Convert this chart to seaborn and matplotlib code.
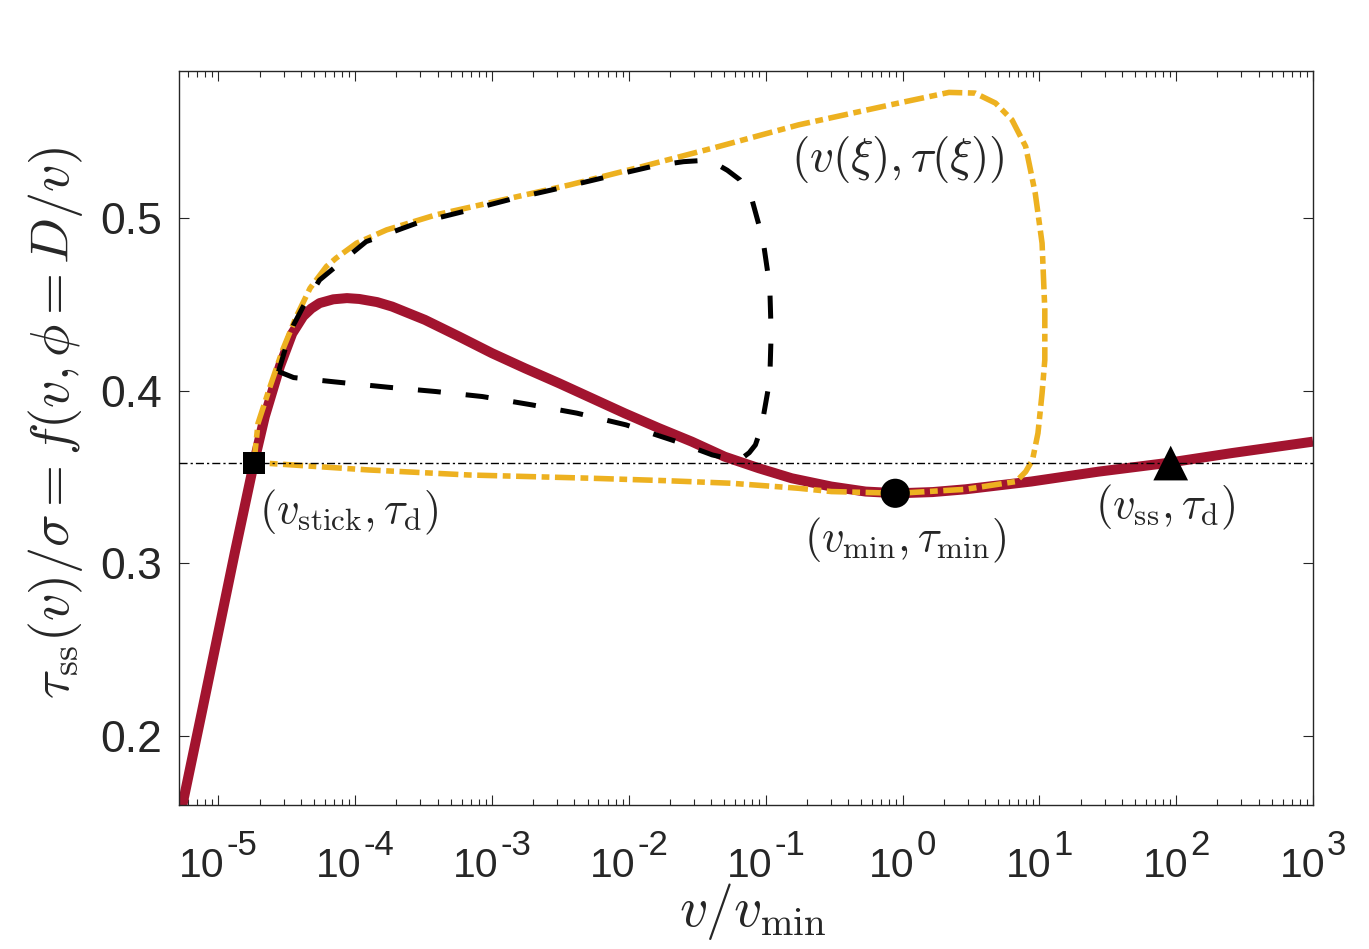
import numpy as np
import matplotlib
matplotlib.use("Agg")
import matplotlib.pyplot as plt
import matplotlib.transforms as mtransforms
import seaborn as sns
from matplotlib.ticker import LogLocator, NullFormatter, FixedLocator

# steady-state friction curve, x kept as log10(v/v_min)
ss_logv = [-5.32, -5.26, -5.12, -5.00, -4.88, -4.74, -4.66, -4.55, -4.46, -4.38,
           -4.32, -4.26, -4.16, -4.06, -3.97, -3.84, -3.73, -3.49, -3.24, -3.00,
           -2.76, -2.51, -2.27, -2.03, -1.78, -1.54, -1.30, -1.05, -0.81, -0.52,
           -0.27, -0.03, 0.22, 0.46, 0.94, 1.43, 1.92, 2.40, 3.00]
ss_tau = [0.138, 0.161, 0.214, 0.260, 0.306, 0.358, 0.385, 0.414, 0.433, 0.443,
          0.4475, 0.4506, 0.4528, 0.4535, 0.4530, 0.4512, 0.4486, 0.4409, 0.4312, 0.4216,
          0.4129, 0.4042, 0.3955, 0.3868, 0.3782, 0.3704, 0.3617, 0.3550, 0.3492, 0.3444,
          0.3415, 0.3405, 0.3412, 0.3428, 0.3473, 0.3530, 0.3579, 0.3637, 0.3704]

# black dashed orbit
blk_logv = [-4.56, -4.50, -4.45, -4.38, -4.26, -4.10, -3.92, -3.55, -3.21, -2.86,
            -2.51, -2.17, -1.81, -1.60, -1.46, -1.37, -1.28, -1.19, -1.10, -1.02,
            -0.97, -0.96, -0.97, -1.00, -1.03, -1.075, -1.12, -1.17, -1.22, -1.30,
            -1.39, -1.65, -2.02, -2.38, -2.71, -3.07, -3.41, -3.76, -4.15, -4.45, -4.56]
blk_tau = [0.411, 0.427, 0.438, 0.4486, 0.464, 0.4745, 0.4862, 0.4969, 0.5036, 0.5108,
           0.5171, 0.5235, 0.5301, 0.5325, 0.5332, 0.5316, 0.5275, 0.5221, 0.5105, 0.4874,
           0.4602, 0.4332, 0.4061, 0.3926, 0.3791, 0.3685, 0.3640, 0.3610, 0.3600, 0.3611,
           0.3627, 0.3704, 0.3801, 0.3869, 0.3917, 0.3965, 0.3994, 0.4019, 0.4050, 0.4075, 0.411]

# yellow dash-dot orbit (v(xi), tau(xi))
org_logv = [-4.74, -4.71, -4.63, -4.53, -4.43, -4.33, -4.21, -4.14, -3.99, -3.77,
            -3.41, -2.92, -2.43, -1.95, -1.36, -0.76, -0.03, 0.34, 0.53, 0.68,
            0.80, 0.90, 0.97, 1.02, 1.04, 1.04, 1.02, 0.99, 0.95, 0.90,
            0.83, 0.46, -0.03, -0.52, -0.76, -1.25, -1.73, -2.27, -3.17, -3.90,
            -4.65, -4.74]
org_tau = [0.358, 0.381, 0.4004, 0.4235, 0.4428, 0.4592, 0.4718, 0.4766, 0.4853, 0.4930,
           0.5017, 0.5104, 0.5191, 0.5287, 0.5409, 0.5538, 0.5664, 0.5726, 0.5722, 0.5664,
           0.5567, 0.5413, 0.5142, 0.4853, 0.4467, 0.4177, 0.3984, 0.3753, 0.3598, 0.3530,
           0.3473, 0.3428, 0.3405, 0.3415, 0.3434, 0.3463, 0.3478, 0.3492, 0.3511, 0.3540,
           0.3579, 0.358]

# special points
tau_d = 0.358
tau_min = 0.3405
v_stick_log = -4.74
v_min_log = -0.053
v_ss_log = 1.96

yticks = [0.2, 0.3, 0.4, 0.5]
xtick_exps = list(range(-5, 4))

sns.set_style("ticks")
plt.rcParams["font.family"] = ["Liberation Sans", "DejaVu Sans"]
plt.rcParams["mathtext.fontset"] = "cm"

red = "#A2142F"
gold = "#EDB120"
ink = "#262626"

fig = plt.figure(figsize=(13.69, 9.49), dpi=100)
ax = fig.add_axes([0.1308, 0.1517, 0.8283, 0.7735])
ax.set_xscale("log")

sns.lineplot(x=10 ** np.array(ss_logv), y=ss_tau, sort=False, estimator=None,
             color=red, linewidth=7.2, solid_capstyle="butt", ax=ax, zorder=2)
sns.lineplot(x=10 ** np.array(org_logv), y=org_tau, sort=False, estimator=None,
             color=gold, linewidth=4, linestyle=(0, (3.6, 1.0, 1.4, 1.0)), ax=ax, zorder=3)
sns.lineplot(x=10 ** np.array(blk_logv), y=blk_tau, sort=False, estimator=None,
             color="black", linewidth=3.6, linestyle=(0, (4.6, 5.0)), ax=ax, zorder=4)
ax.axhline(tau_d, color="black", linewidth=1.0, linestyle=(0, (5.8, 2.2, 1.6, 2.2)), zorder=5)

sns.scatterplot(x=[10 ** v_stick_log], y=[tau_d], marker="s", s=16 ** 2, color="black",
                edgecolor="none", ax=ax, zorder=6)
sns.scatterplot(x=[10 ** v_min_log], y=[tau_min], marker="o", s=21 ** 2, color="black",
                edgecolor="none", ax=ax, zorder=6)
sns.scatterplot(x=[10 ** v_ss_log], y=[tau_d], marker="^", s=25 ** 2, color="black",
                edgecolor="none", ax=ax, zorder=6)

# labels next to points
ax.text(10 ** -4.046, 0.3297, r"$(v_{\rm stick}, \tau_{\rm d})$", fontsize=32, ha="center", va="center")
ax.text(10 ** 0.019, 0.3135, r"$(v_{\rm min}, \tau_{\rm min})$", fontsize=32, ha="center", va="center")
ax.text(10 ** 1.918, 0.3326, r"$(v_{\rm ss}, \tau_{\rm d})$", fontsize=32, ha="center", va="center")
ax.text(10 ** -0.032, 0.5335, r"$(v(\xi), \tau(\xi))$", fontsize=34, ha="center", va="center")

ax.set_xlim(10 ** -5.287, 1e3)
ax.set_ylim(0.16, 0.585)

ax.xaxis.set_major_locator(FixedLocator(10.0 ** np.array(xtick_exps)))
ax.xaxis.set_minor_locator(LogLocator(base=10, subs=np.arange(2, 10), numticks=20))
ax.xaxis.set_major_formatter(NullFormatter())
ax.xaxis.set_minor_formatter(NullFormatter())
ax.set_yticks(yticks)
ax.set_yticklabels([f"{t:.1f}" for t in yticks])

ax.tick_params(which="both", direction="in", top=True, right=True, colors=ink, width=0.8)
ax.tick_params(which="major", length=7.5, labelsize=32)
ax.tick_params(which="minor", length=4)
ax.tick_params(axis="y", which="major", pad=12)

for sp in ax.spines.values():
    sp.set_linewidth(1.0)
    sp.set_color(ink)

# MATLAB-like x tick labels: "10" with a large raised exponent
xtrans = ax.get_xaxis_transform()
pairs = []
for e in xtick_exps:
    base = ax.text(10.0 ** e, 0, "10", transform=xtrans, fontsize=29.5, color=ink,
                   ha="left", va="baseline")
    sup = ax.text(10.0 ** e, 0, str(e), transform=xtrans, fontsize=25, color=ink,
                  ha="left", va="baseline")
    pairs.append((base, sup))

fig.canvas.draw()
renderer = fig.canvas.get_renderer()
for base, sup in pairs:
    wb = base.get_window_extent(renderer).width
    ws = sup.get_window_extent(renderer).width
    left = -(wb + 2 + ws) / 2.0
    base.set_transform(xtrans + mtransforms.ScaledTranslation(left / 100, -72 / 100, fig.dpi_scale_trans))
    sup.set_transform(xtrans + mtransforms.ScaledTranslation((left + wb + 2) / 100, -50 / 100, fig.dpi_scale_trans))

ax.set_xlabel(r"$v/v_{\rm min}$", fontsize=40, color=ink)
ax.xaxis.set_label_coords(0.506, -0.104)
ax.set_ylabel(r"$\tau_{\rm ss}(v)/\sigma = f(v,\phi = D/v)$", fontsize=39, color=ink)
ax.yaxis.set_label_coords(-0.083, 0.52)

fig.savefig("out.png", dpi=100)
